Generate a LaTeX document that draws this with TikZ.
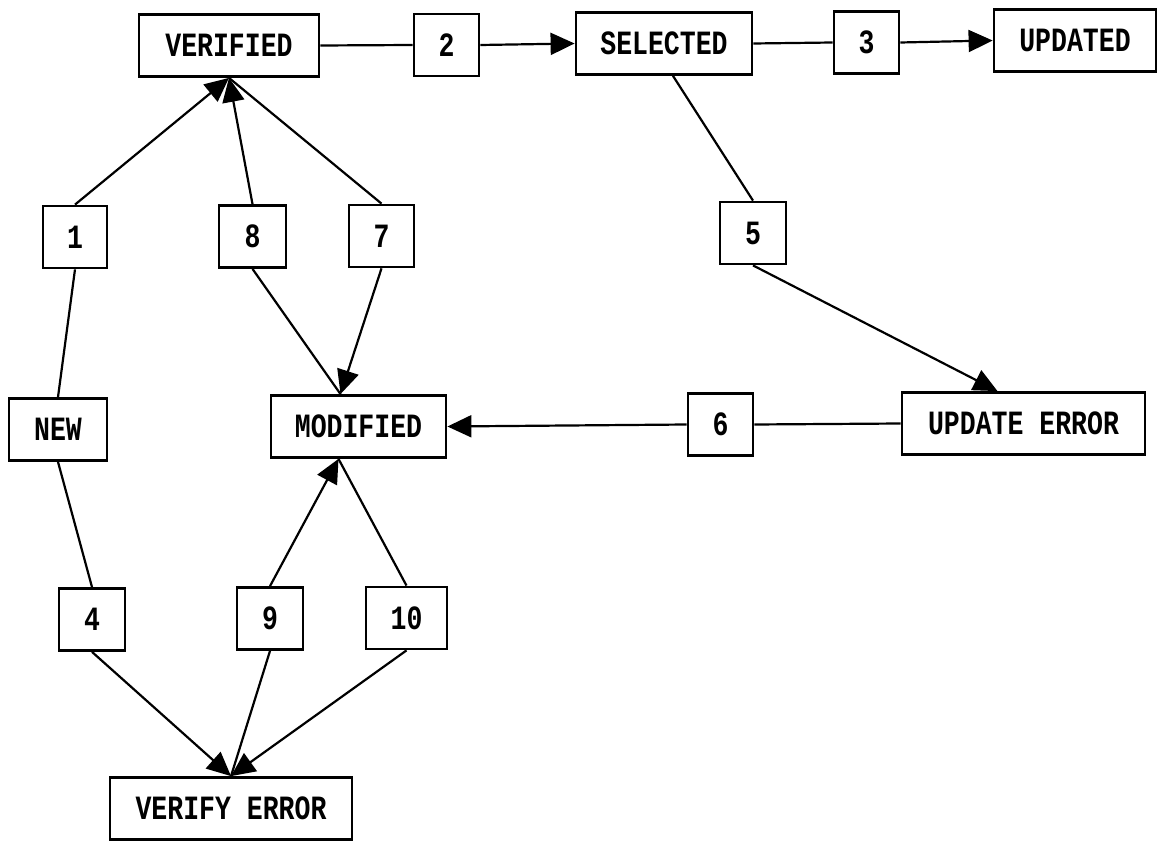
\documentclass[tikz,border=0pt]{standalone}
\usepackage{fontspec}
\newfontfamily\labelfont[FakeStretch=0.78]{Liberation Mono}
\usetikzlibrary{arrows.meta}

\begin{document}
\begin{tikzpicture}[x=1pt,y=-1pt,
  box/.style={draw, line width=2.8pt, minimum height=62pt, inner sep=0pt,
    font=\labelfont\bfseries\fontsize{34}{34}\selectfont},
  wide/.style={box, minimum width=#1},
  link/.style={line width=2.2pt},
  flow/.style={link, -{Triangle[length=24pt,width=22pt]}},
]
\fill[white] (0,0) rectangle (1159,842);
\useasboundingbox (0,0) rectangle (1159,842);

% states and transition numbers
\node[wide=180pt] (ver)  at (229,45.5)  {VERIFIED};
\node[wide=65pt]  (n2)   at (446.5,45)  {2};
\node[wide=176pt] (sel)  at (664,43.5)  {SELECTED};
\node[wide=65pt]  (n3)   at (866.5,42.5){3};
\node[wide=162pt] (upd)  at (1075,40.5) {UPDATED};

\node[wide=64pt]  (n1)   at (75,237)    {1};
\node[wide=67pt]  (n8)   at (252.5,236.5){8};
\node[wide=65pt]  (n7)   at (381.5,236) {7};
\node[wide=66pt]  (n5)   at (753,233)   {5};

\node[wide=98pt]  (new)  at (58,429.5)  {NEW};
\node[wide=175pt] (mod)  at (358.5,426.5){MODIFIED};
\node[wide=65pt]  (n6)   at (720.5,424.5){6};
\node[wide=243pt] (uerr) at (1023.5,423.5){UPDATE ERROR};

\node[wide=66pt]  (n4)   at (92,619.5)  {4};
\node[wide=66pt]  (n9)   at (270,618.5) {9};
\node[wide=81pt]  (n10)  at (406.5,618) {10};
\node[wide=242pt] (verr) at (231,808.5) {VERIFY ERROR};

% meeting points on the box borders
\coordinate (modtop)  at ([xshift=-18pt]mod.north);
\coordinate (modbot)  at ([xshift=-20pt]mod.south);
\coordinate (uerrtop) at ([xshift=-26pt]uerr.north);
\coordinate (selbot)  at ([xshift=9pt]sel.south);

% top row
\draw[link] (ver.east) -- (n2.west);
\draw[flow] (n2.east) -- (sel.west);
\draw[link] (sel.east) -- (n3.west);
\draw[flow] (n3.east) -- (upd.west);

% into and out of VERIFIED
\draw[link] (new.north) -- (n1.south);
\draw[flow] (n1.north) -- (ver.south);
\draw[flow] (n8.north) -- (ver.south);
\draw[link] (ver.south) -- (n7.north);
\draw[link] (n8.south) -- (modtop);
\draw[flow] (n7.south) -- (modtop);

% update path
\draw[link] (selbot) -- (n5.north);
\draw[flow] (n5.south) -- (uerrtop);
\draw[link] (uerr.west) -- (n6.east);
\draw[flow] (n6.west) -- (mod.east);

% verify error path
\draw[link] (new.south) -- (n4.north);
\draw[flow] (n4.south) -- (verr.north);
\draw[link] (verr.north) -- (n9.south);
\draw[flow] (n9.north) -- (modbot);
\draw[link] (modbot) -- (n10.north);
\draw[flow] (n10.south) -- (verr.north);
\end{tikzpicture}
\end{document}
